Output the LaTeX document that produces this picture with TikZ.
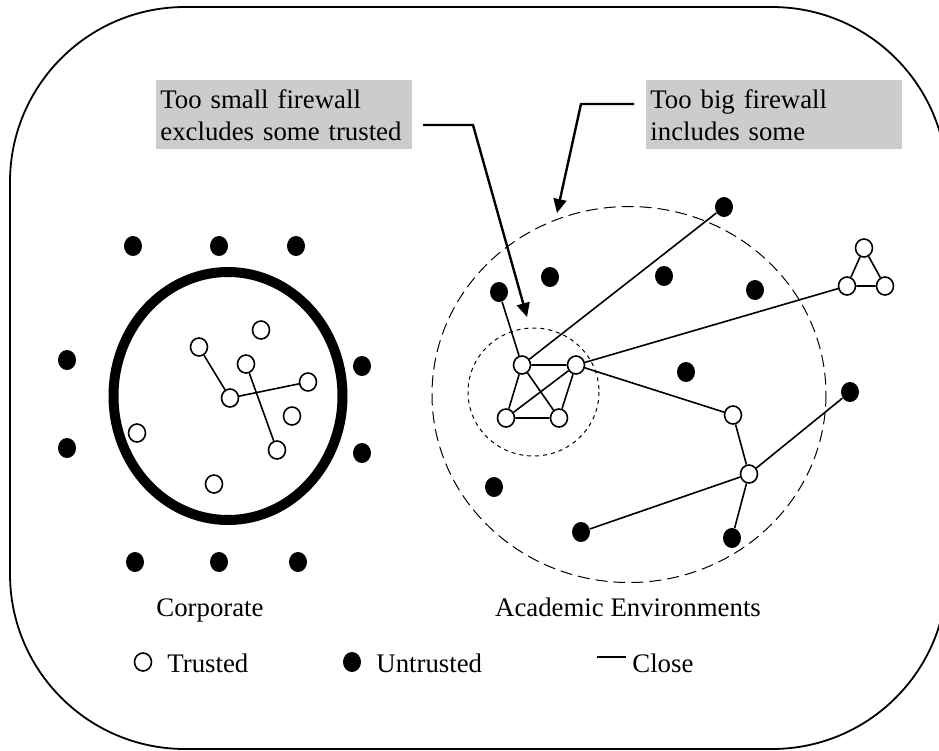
\documentclass[tikz,border=0pt]{standalone}
\usepackage{fontspec}
\setmainfont{Liberation Serif}
\usetikzlibrary{arrows.meta,shapes.geometric}

\tikzset{
  trusted/.style={ellipse,draw,fill=white,line width=0.8pt,inner sep=0pt,minimum width=8.5pt,minimum height=9pt},
  untrusted/.style={ellipse,fill=black,inner sep=0pt,minimum width=9pt,minimum height=10pt},
  closeedge/.style={line width=0.8pt},
  callout/.style={fill=black!20,inner xsep=2pt,inner ysep=1pt,text width=124pt,minimum height=34.5pt,align=left,anchor=north west},
  pointer/.style={line width=1.2pt,-{Triangle[length=7pt,width=6.5pt]}},
  caption/.style={anchor=base},
}

\begin{document}
\begin{tikzpicture}[x=0.5pt,y=-0.5pt,font=\fontsize{13.4}{16}\selectfont]
  \useasboundingbox[fill=white] (0,0) rectangle (939,751);
  % frame
  \draw[line width=0.9pt,rounded corners=87.5pt] (10,7) rectangle (947,749);

  % Callouts
  \node[callout] (small) at (156,80) {Too small firewall\\excludes some trusted};
  \node[callout] (big) at (646,80) {Too big firewall\\includes some};

  % Corporate: tight firewall
  \draw[line width=5pt] (228,396) ellipse (114.5 and 124);
  \node[untrusted] (cu1) at (133,246) {};
  \node[untrusted] (cu2) at (219,246) {};
  \node[untrusted] (cu3) at (296,246) {};
  \node[untrusted] (cu4) at (67,360) {};
  \node[untrusted] (cu5) at (67,448) {};
  \node[untrusted] (cu6) at (362,366) {};
  \node[untrusted] (cu7) at (362,453) {};
  \node[untrusted] (cu8) at (135,562) {};
  \node[untrusted] (cu9) at (219,562) {};
  \node[untrusted] (cu10) at (298,562) {};

  \node[trusted] (ct1) at (261,330) {};
  \node[trusted] (ct2) at (199,347) {};
  \node[trusted] (ct3) at (246,364) {};
  \node[trusted] (ct4) at (308,382) {};
  \node[trusted] (ct5) at (230,398) {};
  \node[trusted] (ct6) at (292,416) {};
  \node[trusted] (ct7) at (137,433) {};
  \node[trusted] (ct8) at (277,450) {};
  \node[trusted] (ct9) at (214,484) {};
  \draw[closeedge] (ct2) -- (ct5);
  \draw[closeedge] (ct5) -- (ct4);
  \draw[closeedge] (ct3) -- (ct8);

  % Academic: two possible firewalls
  \draw[line width=0.5pt,dash pattern=on 6pt off 3pt] (629,394.5) ellipse (197 and 188);
  \draw[line width=0.5pt,dash pattern=on 2pt off 2pt] (533.5,392) ellipse (65.5 and 64);

  \node[trusted] (k1) at (522,365) {};
  \node[trusted] (k2) at (576,365) {};
  \node[trusted] (k3) at (506,418) {};
  \node[trusted] (k4) at (559,418) {};
  \node[trusted] (t1) at (733,415) {};
  \node[trusted] (t2) at (749,474) {};
  \node[trusted] (r1) at (864,248) {};
  \node[trusted] (r2) at (847,286) {};
  \node[trusted] (r3) at (885,286) {};

  \node[untrusted] (u1) at (499,292) {};
  \node[untrusted] (u2) at (724,207) {};
  \node[untrusted] (u3) at (550,277) {};
  \node[untrusted] (u4) at (664,276) {};
  \node[untrusted] (u5) at (755,290) {};
  \node[untrusted] (u6) at (686,372) {};
  \node[untrusted] (u7) at (494,487) {};
  \node[untrusted] (u8) at (850,392) {};
  \node[untrusted] (u9) at (581,532) {};
  \node[untrusted] (u10) at (732,538) {};

  \draw[closeedge] (k1) -- (k2) -- (k4) -- (k3) -- (k1) -- (k4);
  \draw[closeedge] (k2) -- (k3);
  \draw[closeedge] (u1) -- (k1) -- (u2);
  \draw[closeedge] (k2) -- (r2);
  \draw[closeedge] (k2) -- (t1) -- (t2);
  \draw[closeedge] (t2) -- (u8);
  \draw[closeedge] (t2) -- (u9);
  \draw[closeedge] (t2) -- (u10);
  \draw[closeedge] (r1) -- (r2) -- (r3) -- (r1);

  % pointers
  \coordinate (p1) at (423,125);
  \coordinate (p2) at (473,125);
  \coordinate (p3) at (527,317);
  \coordinate (q1) at (634,104);
  \coordinate (q2) at (581,104);
  \coordinate (q3) at (557,213);
  \draw[pointer] (p1) -- (p2) -- (p3);
  \draw[pointer] (q1) -- (q2) -- (q3);

  % captions
  \node[caption] (corp) at (210,616) {Corporate};
  \node[caption] (acad) at (628,616) {Academic Environments};

  % Legend
  \node[trusted] (lt) at (143,662) {};
  \node[anchor=base west,inner sep=0pt] (ltx) at (167,672) {Trusted};
  \node[untrusted] (lu) at (352,662) {};
  \node[anchor=base west,inner sep=0pt] (lux) at (376,672) {Untrusted};
  \coordinate (lc1) at (597,657);
  \coordinate (lc2) at (626,657);
  \draw[closeedge] (lc1) -- (lc2);
  \node[anchor=base west,inner sep=0pt] (lcx) at (632,672) {Close};
\end{tikzpicture}
\end{document}
